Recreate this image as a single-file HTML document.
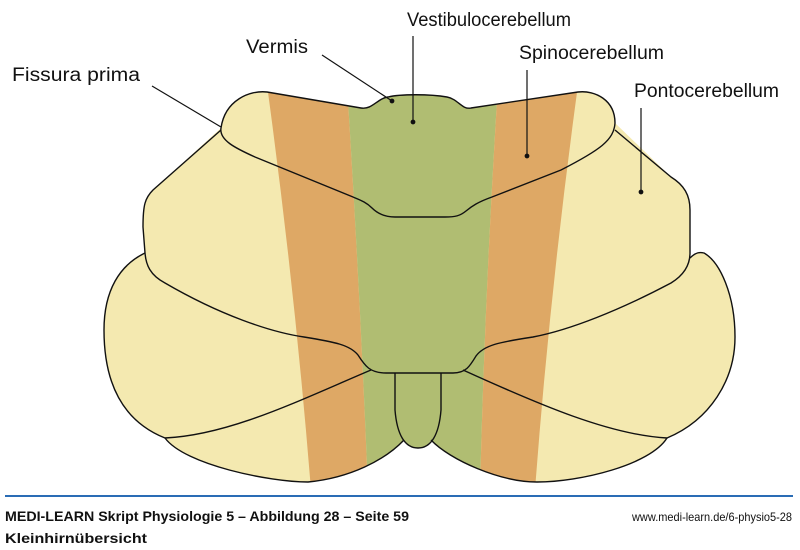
<!DOCTYPE html>
<html><head><meta charset="utf-8"><style>
html,body{margin:0;padding:0;background:#fff;}
svg{display:block;}
text{font-family:"Liberation Sans Narrow","Liberation Sans",sans-serif;}
</style></head><body>
<svg width="800" height="550" viewBox="0 0 800 550" xmlns="http://www.w3.org/2000/svg">
<defs>
<clipPath id="c"><path d="M221,128 C225,100 250,90 267,92 L361,108 C372,110 378,98 388,97 C400,94 430,94 447,97 C458,99 462,110 471,108 L578,92 C595,90 615,100 615,123 L671,177 C684,185 690,195 690,210 L690,258 C696,252 700,252 704,253 C720,262 735,295 735,337 C735,380 710,420 667,438 C650,465 580,482 537,482 C500,482 450,460 431,440 C428,446 423,448 418,448 C413,448 408,446 404,440 C385,460 350,478 308,482 C270,482 185,465 165,438 C120,420 104,380 104,330 C104,290 120,265 145,253 L143,227 C143,205 145,198 153,190 Z"/></clipPath>
</defs>
<path d="M221,128 C225,100 250,90 267,92 L361,108 C372,110 378,98 388,97 C400,94 430,94 447,97 C458,99 462,110 471,108 L578,92 C595,90 615,100 615,123 L671,177 C684,185 690,195 690,210 L690,258 C696,252 700,252 704,253 C720,262 735,295 735,337 C735,380 710,420 667,438 C650,465 580,482 537,482 C500,482 450,460 431,440 C428,446 423,448 418,448 C413,448 408,446 404,440 C385,460 350,478 308,482 C270,482 185,465 165,438 C120,420 104,380 104,330 C104,290 120,265 145,253 L143,227 C143,205 145,198 153,190 Z" fill="#f4e9b0"/>
<g clip-path="url(#c)">
<path d="M267,85 L347,85 Q360,290 368,490 L311,490 Q295,290 267,85 Z" fill="#dea865"/>
<path d="M347,85 L498,85 Q485,290 480,490 L368,490 Q360,290 347,85 Z" fill="#b0bd72"/>
<path d="M498,85 L578,85 Q550,290 535,490 L480,490 Q485,290 498,85 Z" fill="#dea865"/>
</g>
<g fill="none" stroke="#111" stroke-width="1.4" stroke-linejoin="round">
<path d="M221,128 C225,100 250,90 267,92 L361,108 C372,110 378,98 388,97 C400,94 430,94 447,97 C458,99 462,110 471,108 L578,92 C595,90 615,100 615,123 C614,140 600,150 561,170 L492,197 C478,202 472,206 466,211 C460,216 455,217 445,217 L395,217 C385,217 378,214 372,208 C366,202 360,200 353,197 L255,157 C235,148 219,140 221,128 Z"/>
<path d="M221,130 L153,190 C145,198 143,205 143,227 L145,253 C146,265 150,275 165,283 C220,315 270,332 304,337 C335,342 350,345 358,355 C365,366 370,373 386,373 L453,373 C466,373 470,366 476,356 C484,345 500,342 533,337 C570,330 620,310 671,283 C684,275 690,265 690,253 L690,210 C690,195 684,185 671,177 L615,130"/>
<path d="M145,253 C120,265 104,290 104,330 C104,380 120,420 165,438 C230,435 300,400 371,370"/>
<path d="M463,370 C540,405 610,435 667,438 C710,420 735,380 735,337 C735,295 720,262 704,253 C700,252 696,252 690,258"/>
<path d="M165,438 C185,465 270,482 308,482 C350,478 385,460 404,440"/>
<path d="M395,373 L395,410 C397,435 405,448 418,448 C431,448 439,435 441,410 L441,373"/>
<path d="M431,440 C450,460 500,482 537,482 C580,482 650,465 667,438"/>
</g>
<g stroke="#111" stroke-width="1.2" fill="#111">
<line x1="152" y1="86" x2="221" y2="127"/>
<line x1="322" y1="55" x2="392" y2="101"/><circle cx="392" cy="101" r="1.8"/>
<line x1="413" y1="36" x2="413" y2="122"/><circle cx="413" cy="122" r="1.8"/>
<line x1="527" y1="70" x2="527" y2="156"/><circle cx="527" cy="156" r="1.8"/>
<line x1="641" y1="108" x2="641" y2="192"/><circle cx="641" cy="192" r="1.8"/>
</g>
<g font-size="19" fill="#111">
<text x="12" y="81" textLength="128" lengthAdjust="spacingAndGlyphs">Fissura prima</text>
<text x="246" y="53" textLength="62" lengthAdjust="spacingAndGlyphs">Vermis</text>
<text x="407" y="26" textLength="164" lengthAdjust="spacingAndGlyphs">Vestibulocerebellum</text>
<text x="519" y="59" textLength="145" lengthAdjust="spacingAndGlyphs">Spinocerebellum</text>
<text x="634" y="97" textLength="145" lengthAdjust="spacingAndGlyphs">Pontocerebellum</text>
</g>
<line x1="5" y1="496" x2="793" y2="496" stroke="#2a6cb5" stroke-width="2"/>
<text x="5" y="521" font-size="14" font-weight="bold" fill="#111" textLength="404" lengthAdjust="spacingAndGlyphs">MEDI-LEARN Skript Physiologie 5 – Abbildung 28 – Seite 59</text>
<text x="632" y="521" font-size="12" fill="#111" textLength="160" lengthAdjust="spacingAndGlyphs">www.medi-learn.de/6-physio5-28</text>
<text x="5" y="543" font-size="14" font-weight="bold" fill="#111" textLength="142" lengthAdjust="spacingAndGlyphs">Kleinhirnübersicht</text>
</svg>
</body></html>
